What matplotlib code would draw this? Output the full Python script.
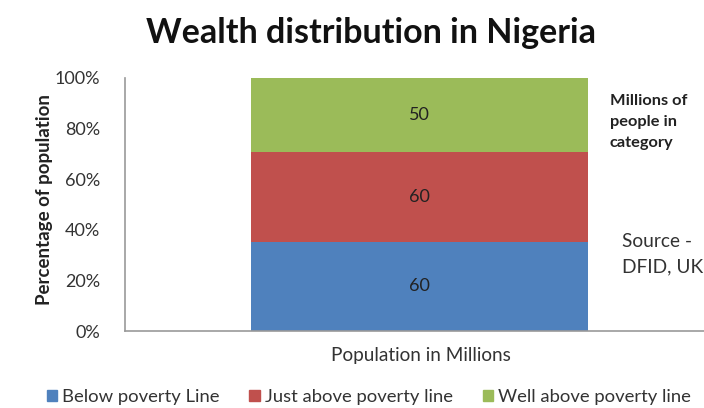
import matplotlib.pyplot as plt
from matplotlib.patches import Patch

# millions of people in each category
categories = ["Below poverty Line", "Just above poverty line", "Well above poverty line"]
millions = [60, 60, 50]
colors = ["#4F81BD", "#C0504D", "#9BBB59"]
yticks = [0, 20, 40, 60, 80, 100]

plt.rcParams['font.family'] = ['Lato', 'DejaVu Sans']

fig = plt.figure(figsize=(7.04, 4.08), dpi=100)
ax = fig.add_axes([125 / 704, 1 - 331 / 408, 1 - 125 / 704, (331 - 78) / 408])

total = sum(millions)
bottom = 0
for name, val, col in zip(categories, millions, colors):
    pct = val / total * 100
    ax.bar(0.017, pct, width=1.165, bottom=bottom, color=col, label=name)
    ax.text(0.017, bottom + pct / 2, str(val), ha='center', va='center',
            fontsize=13, color='#222222')
    bottom += pct

ax.set_xlim(-1, 1)
ax.set_ylim(0, 100)
ax.set_yticks(yticks)
ax.set_yticklabels([f"{t}%" for t in yticks], fontsize=13, color='#333333')
ax.set_xticks([])
ax.tick_params(axis='y', length=0, pad=18)
for s in ['top', 'right']:
    ax.spines[s].set_visible(False)
for s in ['left', 'bottom']:
    ax.spines[s].set_color('#999999')
    ax.spines[s].set_linewidth(1.2)

fig.text(371.5 / 704, 1 - 33 / 408, "Wealth distribution in Nigeria", ha='center', va='center',
         fontsize=24.5, fontweight='bold', color='#111111')
fig.text(45 / 704, 1 - 200 / 408, "Percentage of population", rotation=90,
         ha='center', va='center', fontsize=13.5, fontweight='bold', color='#222222')
fig.text(421 / 704, 1 - 355 / 408, "Population in Millions", ha='center', va='center',
         fontsize=13.7, color='#333333')
fig.text(610 / 704, 1 - 122 / 408, "Millions of\npeople in\ncategory", ha='left', va='center',
         fontsize=11.8, fontweight='bold', color='#222222', linespacing=1.65)
fig.text(622 / 704, 1 - 254 / 408, "Source -\nDFID, UK", ha='left', va='center',
         fontsize=13.8, color='#333333', linespacing=1.6)

handles = [Patch(color=c) for c in colors]
fig.legend(handles, categories, loc='center', bbox_to_anchor=(369 / 704, 1 - 397 / 408),
           ncol=3, frameon=False, fontsize=13.3, handlelength=0.55, handleheight=0.55,
           handletextpad=0.3, columnspacing=1.6, labelcolor='#333333')

fig.savefig("out.png", dpi=100)
